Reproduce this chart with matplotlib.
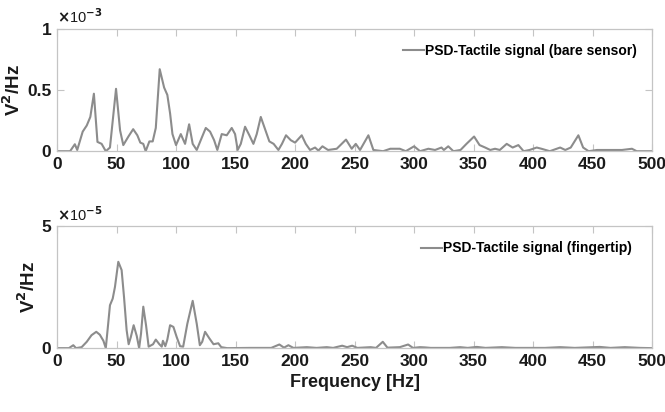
import matplotlib.pyplot as plt
import numpy as np

# PSD of the tactile signal, bare sensor (values in units of 1e-3 V^2/Hz)
freq_bare = [0, 11, 15, 17, 21.6, 25, 28, 31, 34, 37.5, 41, 44.5, 49.6, 53, 55.7, 60, 64,
             67.5, 70, 72.5, 74.5, 77.6, 80.4, 83, 86.3, 90, 92.7, 95, 97, 100, 104, 107.6,
             111, 114, 117.4, 121.6, 125, 128.6, 132, 134.7, 138.4, 142.6, 146.8, 149.6,
             151.8, 154.4, 158, 161.6, 165, 167.8, 171.2, 174.8, 178.4, 182, 186, 189, 192.4,
             196.4, 200, 205.6, 209, 212.6, 216.8, 219.6, 223, 227.7, 235, 242.8, 247.6, 251,
             254.6, 261.6, 265.8, 274, 280, 288, 293, 300, 305, 312, 317.6, 323, 325, 328.7,
             333, 339, 344, 350.4, 355, 359.7, 364, 368, 372, 377.8, 382.8, 387.6, 392, 397,
             403, 407, 414, 422.7, 427, 431.6, 438, 442, 446.6, 453.6, 462, 467.6, 474.6, 483,
             487, 498, 500]
psd_bare = [0, 0, 0.057, 0.01, 0.16, 0.21, 0.28, 0.47, 0.076, 0.06, 0, 0.03, 0.51, 0.17,
            0.05, 0.12, 0.18, 0.13, 0.07, 0.06, 0, 0.08, 0.08, 0.19, 0.67, 0.52, 0.46, 0.31,
            0.14, 0.05, 0.14, 0.06, 0.22, 0.06, 0.01, 0.11, 0.19, 0.16, 0.09, 0.01, 0.14,
            0.13, 0.19, 0.14, 0.01, 0.06, 0.2, 0.13, 0.06, 0.14, 0.28, 0.18, 0.08, 0.06, 0.01,
            0.06, 0.13, 0.09, 0.07, 0.13, 0.06, 0.01, 0.03, 0.005, 0.04, 0.01, 0.02, 0.095,
            0.02, 0.06, 0.01, 0.13, 0.01, 0, 0.02, 0.02, 0, 0.04, 0, 0.02, 0.01, 0.03, 0.01,
            0.04, 0, 0.01, 0.06, 0.12, 0.05, 0.03, 0.01, 0.02, 0.01, 0.06, 0.03, 0.05, 0, 0.01,
            0.03, 0.02, 0, 0.03, 0.01, 0.03, 0.13, 0.03, 0, 0.01, 0.01, 0.01, 0.01, 0.02, 0,
            0, 0]

# PSD of the tactile signal, fingertip (values in units of 1e-5 V^2/Hz)
freq_finger = [0, 10, 13.7, 16, 20.7, 25, 29, 33, 36, 39, 41, 43, 44.5, 46.8, 48.7, 51.5,
               54.3, 56.3, 58.5, 60.2, 62, 64.4, 67, 69, 70.6, 72.5, 74.8, 77, 80.7, 83, 86,
               88, 89, 91, 92.7, 95, 97.8, 100.6, 103.4, 106, 109.5, 114, 117.4, 120, 122,
               124.4, 128, 131.5, 135.5, 138, 143, 162, 180, 186.8, 190.7, 194.4, 198.6, 209.8,
               218, 226.6, 232, 239.6, 243.7, 248, 252.3, 263.5, 268, 273.7, 277.6, 288, 295,
               299, 305, 309, 314, 330, 338.7, 345, 352.7, 360, 373.7, 385, 410, 422.7, 435,
               456, 465, 477, 490, 500]
psd_finger = [0, 0, 0.12, 0, 0.04, 0.26, 0.53, 0.67, 0.55, 0.3, 0, 1.0, 1.76, 2.03, 2.51,
              3.54, 3.2, 2.1, 0.74, 0.16, 0.45, 0.94, 0.5, 0, 0.6, 1.7, 0.94, 0.06, 0.16, 0.35,
              0.16, 0.06, 0.3, 0.08, 0.35, 0.94, 0.87, 0.45, 0.08, 0.06, 1.0, 1.94, 1.0, 0.12,
              0.26, 0.67, 0.4, 0.16, 0.2, 0.04, 0, 0.01, 0.01, 0.15, 0.02, 0.12, 0.01, 0.04,
              0.01, 0.04, 0.01, 0.1, 0.04, 0.1, 0.01, 0.04, 0.01, 0.26, 0.02, 0.04, 0.15, 0.01,
              0.04, 0.03, 0.01, 0.01, 0.04, 0.01, 0.05, 0.01, 0.04, 0.01, 0.01, 0.04, 0.01,
              0.05, 0.01, 0.04, 0.01, 0]

x_ticks = np.arange(0, 501, 50)

plt.rcParams['font.family'] = ['Liberation Sans', 'DejaVu Sans']
plt.rcParams['font.weight'] = 'bold'

line_col = '#8c8c8c'
axis_col = '#c4c4c4'
text_col = '#1a1a1a'

fig = plt.figure(figsize=(6.65, 4.12), dpi=100)
ax1 = fig.add_axes([0.0857, 0.633, 0.895, 0.297])
ax2 = fig.add_axes([0.0857, 0.155, 0.895, 0.296])

panels = [
    (ax1, freq_bare, psd_bare, 1, [0, 0.5, 1], ['0', '0.5', '1'], r'$\times$10$^{-3}$',
     'PSD-Tactile signal (bare sensor)', 0.984),
    (ax2, freq_finger, psd_finger, 5, [0, 5], ['0', '5'], r'$\times$10$^{-5}$',
     'PSD-Tactile signal (fingertip)', 0.976),
]

for ax, f, p, ymax, yt, ytl, expo, lab, lx in panels:
    ax.plot(f, p, color=line_col, lw=1.5, label=lab)
    ax.set_xlim(0, 500)
    ax.set_ylim(0, ymax)
    ax.set_xticks(x_ticks)
    ax.set_yticks(yt)
    ax.set_yticklabels(ytl)
    ax.tick_params(direction='in', top=True, right=True, length=5, width=0.8,
                   color=axis_col, labelsize=12.5, labelcolor=text_col, pad=4)
    for s in ax.spines.values():
        s.set_color(axis_col)
        s.set_linewidth(0.9)
    ax.set_ylabel(r'V$^2$/Hz', fontsize=13.5, fontweight='bold', color=text_col, labelpad=2)
    ax.text(0.0, 1.02, expo, transform=ax.transAxes, ha='left', va='bottom',
            fontsize=10.5, fontweight='normal', color=text_col)
    ax.legend(loc='upper right', bbox_to_anchor=(lx, 0.92), frameon=False,
              handlelength=1.5, handletextpad=0.1, borderaxespad=0,
              prop={'weight': 'bold', 'size': 10})

ax2.set_xlabel('Frequency [Hz]', fontsize=13, fontweight='bold', color=text_col, labelpad=4)

fig.savefig('out.png', dpi=100, facecolor='white')
